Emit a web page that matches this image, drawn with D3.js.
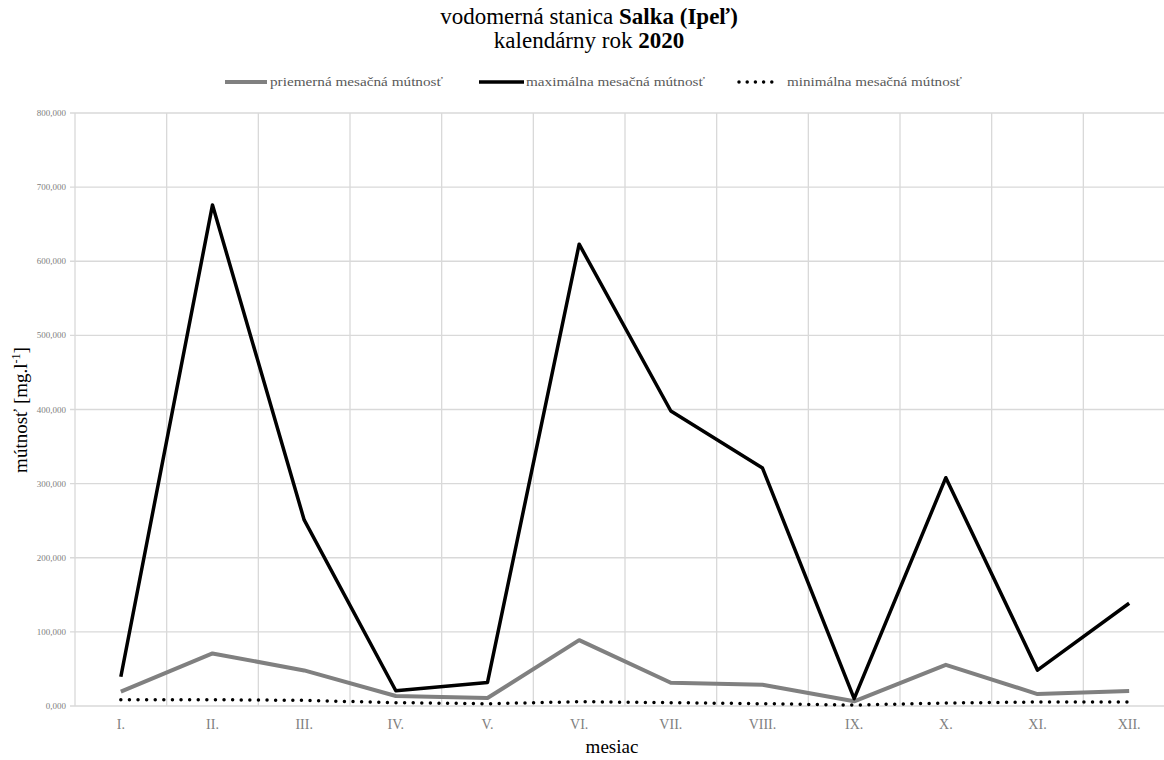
<!DOCTYPE html>
<html><head><meta charset="utf-8">
<script src="https://cdn.jsdelivr.net/npm/d3@7"></script>
<style>body{margin:0;background:#fff}svg{display:block}</style>
</head><body><svg id="c" width="1164" height="760"></svg>
<script>
const months = ["I.","II.","III.","IV.","V.","VI.","VII.","VIII.","IX.","X.","XI.","XII."];
const avgVals = [19300,70900,48000,13500,10800,88800,31400,28700,6300,55600,16100,20200];
const maxVals = [39500,676000,251000,20600,31800,623000,398000,321000,9900,308000,48400,138600];
const minVals = [8500,8500,7600,4500,3100,5800,4500,3100,1300,4000,5400,5400];
const yTicks = [0,100000,200000,300000,400000,500000,600000,700000,800000];
const yTickLabels = ["0,000","100,000","200,000","300,000","400,000","500,000","600,000","700,000","800,000"];
const seriesNames = ["priemerná mesačná mútnosť","maximálna mesačná mútnosť","minimálna mesačná mútnosť"];

const svg = d3.select("#c");
const L = 75, R = 1175, T = 113, B = 706;
const serif = "'Liberation Serif','Times New Roman',serif";

const x = d3.scaleBand().domain(months).range([L, R]).padding(0);
const xc = d => x(d) + x.bandwidth()/2;
const y = d3.scaleLinear().domain([0, 800000]).range([B, T]);

// grid
const g = svg.append("g");
g.selectAll(".hg").data(yTicks).join("line")
  .attr("x1", L-5).attr("x2", R).attr("y1", d=>y(d)).attr("y2", d=>y(d))
  .attr("stroke", "#d9d9d9").attr("stroke-width", 1.3);
const bounds = months.map(m => x(m)).concat([R]);
g.selectAll(".vg").data(bounds).join("line")
  .attr("x1", d=>d).attr("x2", d=>d).attr("y1", T).attr("y2", B)
  .attr("stroke", "#d9d9d9").attr("stroke-width", 1.3);

// y labels
svg.append("g").selectAll("text").data(yTicks).join("text")
  .attr("x", 66).attr("y", d=>y(d)+3)
  .attr("text-anchor", "end").attr("font-family", serif).attr("font-size", 9)
  .attr("fill", "#808080").text((d,i)=>yTickLabels[i]);

// x labels
svg.append("g").selectAll("text").data(months).join("text")
  .attr("x", d=>xc(d)).attr("y", 729)
  .attr("text-anchor", "middle").attr("font-family", serif).attr("font-size", 14)
  .attr("fill", "#808080").text(d=>d);

const line = d3.line().x((d,i)=>xc(months[i])).y(d=>y(d));
svg.append("path").datum(avgVals).attr("d", line).attr("fill","none")
  .attr("stroke","#808080").attr("stroke-width",4).attr("stroke-linejoin","round");
svg.append("path").datum(maxVals).attr("d", line).attr("fill","none")
  .attr("stroke","#000").attr("stroke-width",3.5).attr("stroke-linejoin","round");
svg.append("path").datum(minVals).attr("d", line).attr("fill","none")
  .attr("stroke","#000").attr("stroke-width",3.5).attr("stroke-linecap","round")
  .attr("stroke-dasharray","0 8.6");

// titles
const t1 = svg.append("text").attr("x", 589).attr("y", 24).attr("text-anchor","middle")
  .attr("font-family", serif).attr("font-size", 23).attr("fill","#000");
t1.append("tspan").text("vodomerná  stanica ");
t1.append("tspan").attr("font-weight","bold").text("Salka (Ipeľ)");
const t2 = svg.append("text").attr("x", 589).attr("y", 48).attr("text-anchor","middle")
  .attr("font-family", serif).attr("font-size", 23).attr("fill","#000");
t2.append("tspan").text("kalendárny  rok ");
t2.append("tspan").attr("font-weight","bold").text("2020");

// axis titles
svg.append("text").attr("x", 612).attr("y", 753).attr("text-anchor","middle")
  .attr("font-family", serif).attr("font-size", 19).attr("fill","#000").text("mesiac");
const yt = svg.append("text").attr("transform","translate(27,410) rotate(-90)")
  .attr("text-anchor","middle").attr("font-family", serif).attr("font-size", 19).attr("fill","#000");
yt.append("tspan").text("mútnosť [mg.l");
yt.append("tspan").attr("font-size",12).attr("dy",-7).text("-1");
yt.append("tspan").attr("dy",7).text("]");

// legend
const leg = [
  {x1:225,x2:267,tx:270,len:173,stroke:"#808080",w:4,dash:null,cap:"butt"},
  {x1:479,x2:524,tx:526,len:179,stroke:"#000",w:3.5,dash:null,cap:"butt"},
  {x1:739,x2:780,tx:787,len:175,stroke:"#000",w:3.5,dash:"0 8.2",cap:"round"}
];
leg.forEach((l,i)=>{
  svg.append("line").attr("x1",l.x1).attr("x2",l.x2).attr("y1",82).attr("y2",82)
    .attr("stroke",l.stroke).attr("stroke-width",l.w).attr("stroke-linecap",l.cap)
    .attr("stroke-dasharray",l.dash);
  svg.append("text").attr("x",l.tx).attr("y",86).attr("font-family",serif)
    .attr("font-size",13).attr("fill","#595959")
    .attr("textLength",l.len).attr("lengthAdjust","spacingAndGlyphs").text(seriesNames[i]);
});
</script></body></html>
